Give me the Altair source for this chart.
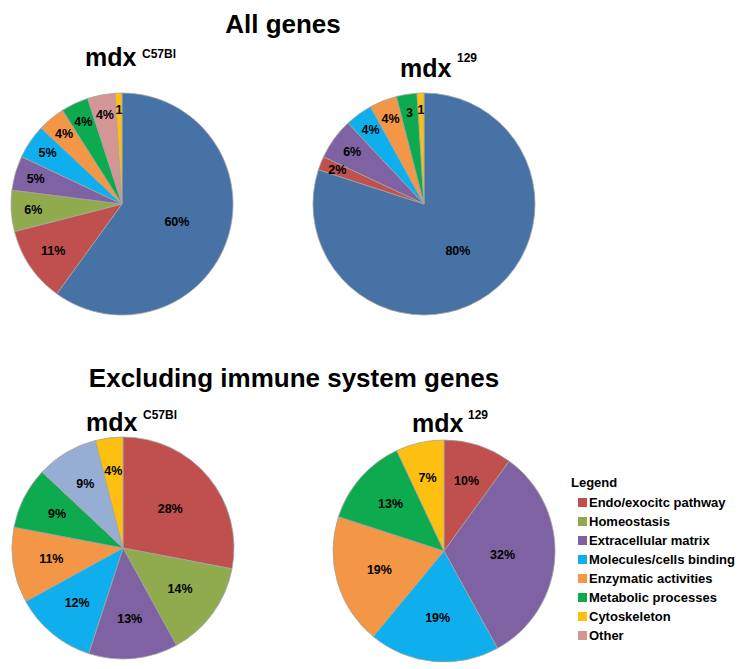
import altair as alt
import pandas as pd

FONT = "Liberation Sans"
R = 111

# ---------------- data ----------------
CATS = ["Immune system", "Endo/exocitc pathway", "Homeostasis", "Extracellular matrix",
        "Molecules/cells binding", "Enzymatic activities", "Metabolic processes",
        "Cytoskeleton", "Other", "Unassigned"]
COLORS = ["#4672A6", "#C0504D", "#8FAB4E", "#7E62A1", "#0FAEEC", "#F39646",
          "#0EAA4F", "#FDC010", "#D49694", "#96AED4"]
LEGEND_CATS = CATS[1:9]

# All genes - mdx C57Bl
a_c57_cats = ["Immune system", "Endo/exocitc pathway", "Homeostasis", "Extracellular matrix",
              "Molecules/cells binding", "Enzymatic activities", "Metabolic processes",
              "Other", "Cytoskeleton"]
a_c57_vals = [60, 11, 6, 5, 5, 4, 4, 4, 1]
a_c57_labs = ["60%", "11%", "6%", "5%", "5%", "4%", "4%", "4%", "1"]

# All genes - mdx 129
a_129_cats = ["Immune system", "Endo/exocitc pathway", "Extracellular matrix",
              "Molecules/cells binding", "Enzymatic activities", "Metabolic processes",
              "Cytoskeleton"]
a_129_vals = [80, 2, 6, 4, 4, 3, 1]
a_129_labs = ["80%", "2%", "6%", "4%", "4%", "3", "1"]

# Excluding immune system genes - mdx C57Bl
e_c57_cats = ["Endo/exocitc pathway", "Homeostasis", "Extracellular matrix",
              "Molecules/cells binding", "Enzymatic activities", "Metabolic processes",
              "Unassigned", "Cytoskeleton"]
e_c57_vals = [28, 14, 13, 12, 11, 9, 9, 4]
e_c57_labs = ["28%", "14%", "13%", "12%", "11%", "9%", "9%", "4%"]

# Excluding immune system genes - mdx 129
e_129_cats = ["Endo/exocitc pathway", "Extracellular matrix", "Molecules/cells binding",
              "Enzymatic activities", "Metabolic processes", "Cytoskeleton"]
e_129_vals = [10, 32, 19, 19, 13, 7]
e_129_labs = ["10%", "32%", "19%", "19%", "13%", "7%"]

TITLES = ["All genes", "Excluding immune system genes"]
STRAIN = "mdx"
SUPS = ["C57Bl", "129"]

# ---------------- helpers ----------------
color_enc = alt.Color(
    "cat:N",
    scale=alt.Scale(domain=CATS, range=COLORS),
    legend=alt.Legend(
        values=LEGEND_CATS, title="Legend", orient="none", legendX=560, legendY=384,
        symbolType="square", symbolSize=81, symbolStrokeWidth=0, symbolOffset=5,
        labelFont=FONT, labelFontSize=13, labelFontWeight="bold", labelColor="black",
        labelOffset=0, labelLimit=300,
        titleFont=FONT, titleFontSize=13, titleFontWeight="bold", titleColor="black",
        titlePadding=6, rowPadding=5, padding=0,
    ),
)


def text_layer(txt, x, y, size, align="left"):
    return alt.Chart(pd.DataFrame({"t": [txt]})).mark_text(
        font=FONT, fontSize=size, fontWeight="bold", color="black",
        align=align, baseline="alphabetic",
    ).encode(text="t:N", x=alt.value(x), y=alt.value(y))


def pie(cats, vals, labs, w, h, lab_expr, extra):
    df = pd.DataFrame({"cat": cats, "val": vals, "lab": labs, "ord": list(range(len(cats)))})
    arcs = alt.Chart(df).mark_arc(
        outerRadius=R, stroke="#a3a3a3", strokeWidth=0.8
    ).encode(
        theta=alt.Theta("val:Q", stack=True),
        order=alt.Order("ord:Q"),
        color=color_enc,
    )
    labels = alt.Chart(df).transform_joinaggregate(
        total="sum(val)"
    ).transform_window(
        cum="sum(val)", sort=[alt.SortField("ord")]
    ).transform_calculate(
        mid="datum.cum - datum.val / 2",
        p="datum.val / datum.total",
    ).transform_calculate(
        lr=lab_expr
    ).mark_text(
        font=FONT, fontSize=12.5, fontWeight="bold", color="black"
    ).encode(
        theta=alt.Theta("mid:Q"),
        radius=alt.Radius("lr:Q", scale=None),
        text="lab:N",
    )
    return alt.layer(arcs, labels, *extra).properties(width=w, height=h)


# label distance from the centre (Excel "best fit"-like placement)
TOP_LABEL = f"datum.p >= 0.5 ? {0.52 * R} : {R} * (0.86 - datum.p)"
BOT_LABEL = f"{R} * (0.72 - 0.6 * datum.p)"

p1 = pie(a_c57_cats, a_c57_vals, a_c57_labs, 222, 222, TOP_LABEL, [
    text_layer(TITLES[0], 272, -60, 26, "center"),
    text_layer(STRAIN, 74, -27, 25),
    text_layer(SUPS[0], 131, -35, 12),
])
p2 = pie(a_129_cats, a_129_vals, a_129_labs, 222, 222, TOP_LABEL, [
    text_layer(STRAIN, 87, -16, 25),
    text_layer(SUPS[1], 144, -31, 12),
])
p3 = pie(e_c57_cats, e_c57_vals, e_c57_labs, 224, 222, BOT_LABEL, [
    text_layer(TITLES[1], 283, -50, 26, "center"),
    text_layer(STRAIN, 75, -6, 25),
    text_layer(SUPS[0], 132, -18, 12),
])
p4 = pie(e_129_cats, e_129_vals, e_129_labs, 262, 228, BOT_LABEL, [
    text_layer(STRAIN, 99, -5, 25),
    text_layer(SUPS[1], 155, -18, 12),
])

chart = alt.concat(
    p1, p2, p3, p4, columns=2, spacing={"row": 122, "column": 78}, bounds="flush"
).resolve_scale(
    color="shared"
).properties(
    padding={"top": 3, "left": 0, "right": 0, "bottom": 0}, background="white"
).configure_view(stroke="transparent")

chart.save("out.html", embed_options={"renderer": "svg", "actions": False})
